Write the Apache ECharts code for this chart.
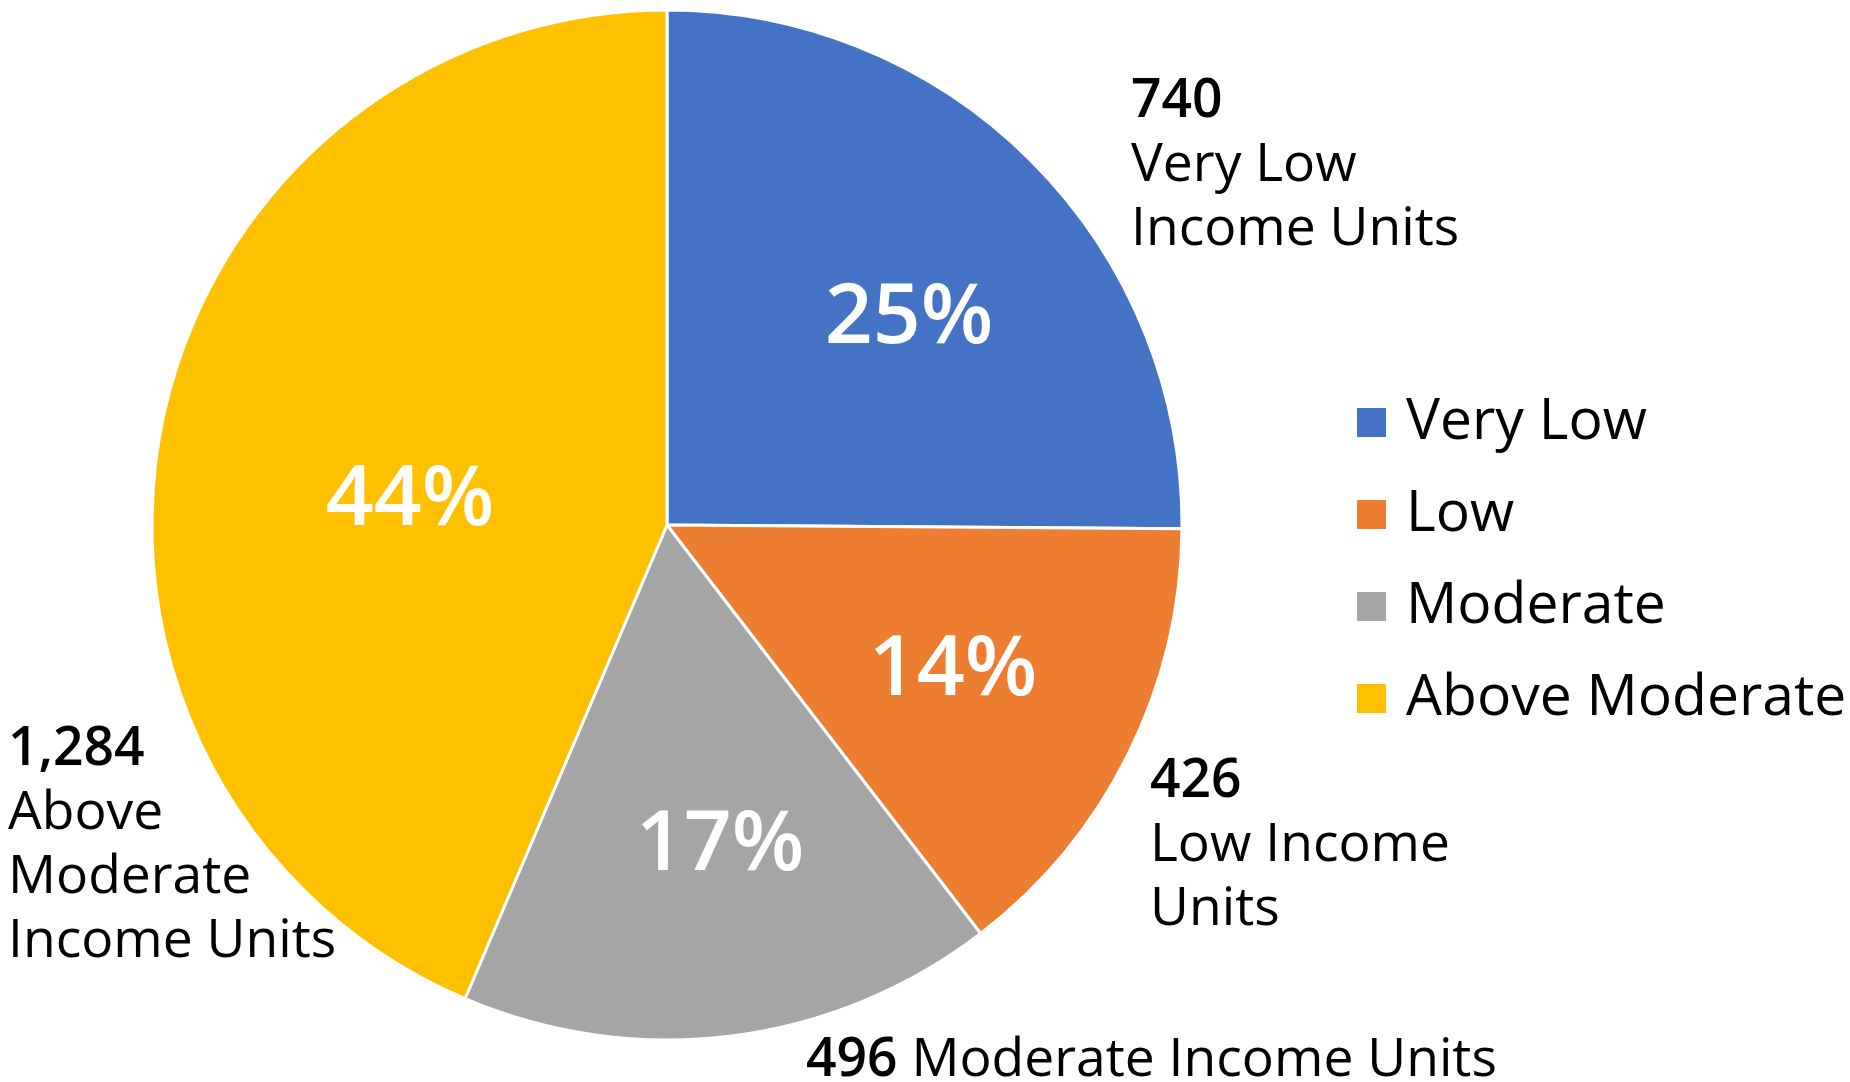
<!DOCTYPE html>
<html lang="en">
<head>
    <meta charset="utf-8">
    <title>Income units</title>
    <script src="https://cdn.jsdelivr.net/npm/echarts@6/dist/echarts.min.js"></script>
    <style>
        html, body { margin: 0; padding: 0; background: #fff; }
        #chart { width: 1850px; height: 1082px; }
    </style>
</head>
<body>
<div id="chart"></div>
<script type="text/javascript">
    // data
    var categories = ['Very Low', 'Low', 'Moderate', 'Above Moderate'];
    var units = [740, 426, 496, 1284];
    var outerNames = ['Very Low\nIncome Units', 'Low Income\nUnits', 'Moderate Income Units', 'Above\nModerate\nIncome Units'];
    var colors = ['#4472C4', '#ED7D31', '#A5A5A5', '#FFC000'];

    // label placement (px, top-left of text block / center of percent)
    var outerPos = [[1131, 70], [1150, 750], [806, 1029], [8, 718]];
    var innerPos = [[909, 319], [953, 671], [720, 846], [410, 501]];

    var total = units.reduce(function (a, b) { return a + b; }, 0);
    var pieData = categories.map(function (c, i) {
        return { name: c, value: units[i] };
    });

    function fmtNum(v) {
        return String(v).replace(/\B(?=(\d{3})+(?!\d))/g, ',');
    }

    var font = '"Open Sans", "Noto Sans", sans-serif';
    var myChart = echarts.init(document.getElementById('chart'));

    myChart.setOption({
        color: colors,
        animation: false,
        legend: {
            orient: 'vertical',
            left: 1355,
            top: 392,
            padding: 0,
            itemWidth: 31,
            itemHeight: 31,
            itemGap: 31,
            icon: 'rect',
            data: categories,
            textStyle: {
                fontFamily: font,
                fontSize: 57,
                color: '#000',
                lineHeight: 61,
                padding: [0, 0, 0, 14]
            }
        },
        series: [
            {
                type: 'pie',
                center: [667, 525],
                radius: [0, 515],
                startAngle: 90,
                data: pieData,
                itemStyle: { borderColor: '#fff', borderWidth: 3 },
                emphasis: { disabled: true },
                label: {
                    position: 'inside',
                    formatter: function (p) {
                        return Math.round(p.value / total * 100) + '%';
                    },
                    fontFamily: font,
                    fontSize: 84,
                    fontWeight: 600,
                    color: '#fff'
                },
                labelLayout: function (p) {
                    var q = innerPos[p.dataIndex];
                    return { x: q[0], y: q[1], align: 'center', verticalAlign: 'middle' };
                }
            },
            {
                type: 'pie',
                center: [667, 525],
                radius: [0, 515],
                startAngle: 90,
                data: pieData,
                silent: true,
                z: 1,
                itemStyle: { color: 'rgba(0,0,0,0)' },
                emphasis: { disabled: true },
                labelLine: { show: false },
                label: {
                    position: 'outside',
                    overflow: 'none',
                    formatter: function (p) {
                        var name = outerNames[p.dataIndex];
                        var num = fmtNum(p.value);
                        if (p.dataIndex === 2) {
                            return '{b|' + num + ' }{n|' + name + '}';
                        }
                        return '{b|' + num + '}\n{n|' + name.split('\n').join('}\n{n|') + '}';
                    },
                    align: 'left',
                    rich: {
                        b: { fontFamily: font, fontSize: 53.4, fontWeight: 600, color: '#000', lineHeight: 64 },
                        n: { fontFamily: font, fontSize: 53.4, color: '#000', lineHeight: 64 }
                    }
                },
                labelLayout: function (p) {
                    var q = outerPos[p.dataIndex];
                    return { x: q[0], y: q[1], align: 'left', verticalAlign: 'top' };
                }
            }
        ]
    });
</script>
</body>
</html>
